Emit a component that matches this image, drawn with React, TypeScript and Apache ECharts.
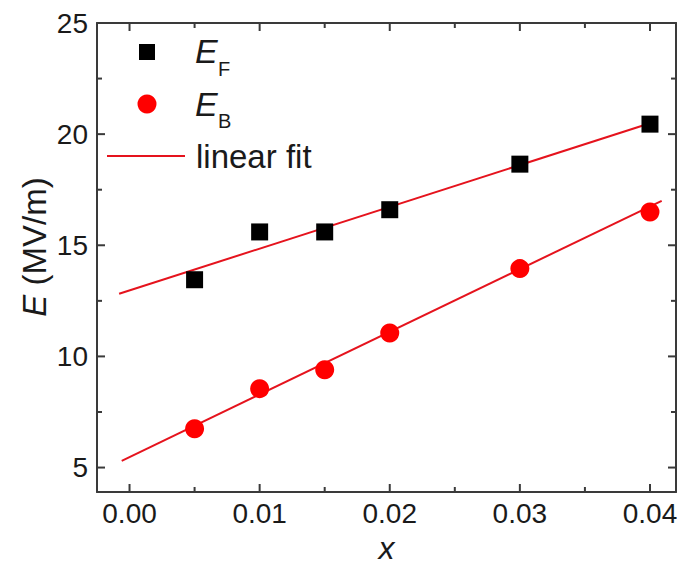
import React, { useEffect, useRef } from "react";
import * as echarts from "echarts";

// Data
const xValues = [0.005, 0.01, 0.015, 0.02, 0.03, 0.04];
const eF = [13.45, 15.6, 15.6, 16.6, 18.65, 20.45];
const eB = [6.75, 8.55, 9.4, 11.05, 13.95, 16.5];
// Linear-fit line endpoints as drawn in the reference
const fitFX = [-0.0008, 0.0406];
const fitFY = [12.82, 20.6];
const fitBX = [-0.0006, 0.0409];
const fitBY = [5.3, 17.0];

// Tick positions (inward ticks on all four sides)
const majorTicksX = [0, 0.01, 0.02, 0.03, 0.04];
const minorTicksX = [0.005, 0.015, 0.025, 0.035];
const majorTicksY = [5, 10, 15, 20];
const minorTicksY = [7.5, 12.5, 17.5, 22.5];

const X_MIN = -0.0025;
const X_MAX = 0.042;
const Y_MIN = 3.9;
const Y_MAX = 25;

const FONT = "Liberation Sans, Arial, sans-serif";
const TXT = "#1a1a1a";
const AX = "#3a3a3a";

function tickSeries(vals: number[], horizontalAxis: boolean, len: number) {
  return {
    type: "custom",
    silent: true,
    clip: false,
    z: 6,
    data: vals.map((v) => (horizontalAxis ? [v, Y_MIN] : [X_MIN, v])),
    renderItem: (_params: any, api: any) => {
      const style = { stroke: AX, lineWidth: 2 };
      if (horizontalAxis) {
        const v = api.value(0);
        const b = api.coord([v, Y_MIN]);
        const t = api.coord([v, Y_MAX]);
        return {
          type: "group",
          children: [
            { type: "line", shape: { x1: b[0], y1: b[1], x2: b[0], y2: b[1] - len }, style },
            { type: "line", shape: { x1: t[0], y1: t[1], x2: t[0], y2: t[1] + len }, style },
          ],
        };
      }
      const v = api.value(1);
      const l = api.coord([X_MIN, v]);
      const r = api.coord([X_MAX, v]);
      return {
        type: "group",
        children: [
          { type: "line", shape: { x1: l[0], y1: l[1], x2: l[0] + len, y2: l[1] }, style },
          { type: "line", shape: { x1: r[0], y1: r[1], x2: r[0] - len, y2: r[1] }, style },
        ],
      };
    },
  };
}

export default function App() {
  const ref = useRef<HTMLDivElement>(null);
  useEffect(() => {
    if (!ref.current) return;
    const chart = echarts.init(ref.current, null, { renderer: "svg" });
    const pairs = (xs: number[], ys: number[]) => xs.map((x, i) => [x, ys[i]]);
    const lineOnly = {
      axisLine: { show: true, onZero: false, lineStyle: { color: AX, width: 2 } },
      axisTick: { show: false },
      minorTick: { show: false },
      splitLine: { show: false },
      minorSplitLine: { show: false },
    };
    const option: any = {
      animation: false,
      backgroundColor: "#ffffff",
      grid: { left: 97, right: 7, top: 23, bottom: 74, containLabel: false, outerBoundsMode: "none" },
      xAxis: [
        {
          type: "value",
          position: "bottom",
          min: X_MIN,
          max: X_MAX,
          splitNumber: 5,
          ...lineOnly,
          axisLabel: {
            show: true,
            color: TXT,
            fontSize: 28,
            fontFamily: FONT,
            margin: 7,
            showMinLabel: false,
            showMaxLabel: false,
            formatter: (v: number) => v.toFixed(2),
          },
          name: "x",
          nameLocation: "middle",
          nameGap: 40,
          nameTextStyle: { color: TXT, fontSize: 32, fontStyle: "italic", fontFamily: FONT },
        },
        {
          type: "value",
          position: "top",
          min: X_MIN,
          max: X_MAX,
          ...lineOnly,
          axisLabel: { show: false },
        },
      ],
      yAxis: [
        {
          type: "value",
          position: "left",
          min: Y_MIN,
          max: Y_MAX,
          splitNumber: 5,
          ...lineOnly,
          axisLabel: {
            show: true,
            color: TXT,
            fontSize: 28,
            fontFamily: FONT,
            margin: 9,
            showMinLabel: false,
            showMaxLabel: true,
            formatter: (v: number) => (Number.isInteger(v) ? String(v) : ""),
          },
        },
        {
          type: "value",
          position: "right",
          min: Y_MIN,
          max: Y_MAX,
          ...lineOnly,
          axisLabel: { show: false },
        },
      ],
      series: [
        {
          name: "fitF",
          type: "line",
          data: pairs(fitFX, fitFY),
          symbol: "none",
          lineStyle: { color: "#e5131d", width: 2 },
          z: 3,
        },
        {
          name: "fitB",
          type: "line",
          data: pairs(fitBX, fitBY),
          symbol: "none",
          lineStyle: { color: "#e5131d", width: 2 },
          z: 3,
        },
        {
          name: "EF",
          type: "scatter",
          data: pairs(xValues, eF),
          symbol: "rect",
          symbolSize: 17,
          itemStyle: { color: "#000000", opacity: 1 },
          z: 4,
        },
        {
          name: "EB",
          type: "scatter",
          data: pairs(xValues, eB),
          symbol: "circle",
          symbolSize: 19,
          itemStyle: { color: "#ff0000", opacity: 1 },
          z: 4,
        },
        tickSeries(majorTicksX, true, 8),
        tickSeries(minorTicksX, true, 5),
        tickSeries(majorTicksY, false, 8),
        tickSeries(minorTicksY, false, 5),
      ],
      graphic: [
        {
          type: "text",
          x: 34,
          y: 247,
          rotation: Math.PI / 2,
          style: {
            text: "{i|E} (MV/m)",
            fontSize: 33,
            fontFamily: FONT,
            fill: TXT,
            align: "center",
            verticalAlign: "middle",
            rich: { i: { fontStyle: "italic", fontSize: 33, fontFamily: FONT, fill: TXT } },
          },
        },
        { type: "rect", shape: { x: 139, y: 44, width: 16, height: 16 }, style: { fill: "#000" } },
        { type: "circle", shape: { cx: 147, cy: 104, r: 9.5 }, style: { fill: "#ff0000" } },
        {
          type: "line",
          shape: { x1: 107, y1: 156, x2: 185, y2: 156 },
          style: { stroke: "#e5131d", lineWidth: 2 },
        },
        {
          type: "text",
          x: 195,
          y: 51,
          style: { text: "E", fontSize: 34, fontStyle: "italic", fontFamily: FONT, fill: TXT, verticalAlign: "middle" },
        },
        {
          type: "text",
          x: 218,
          y: 69,
          style: { text: "F", fontSize: 20, fontFamily: FONT, fill: TXT, verticalAlign: "middle" },
        },
        {
          type: "text",
          x: 195,
          y: 104,
          style: { text: "E", fontSize: 34, fontStyle: "italic", fontFamily: FONT, fill: TXT, verticalAlign: "middle" },
        },
        {
          type: "text",
          x: 218,
          y: 121,
          style: { text: "B", fontSize: 20, fontFamily: FONT, fill: TXT, verticalAlign: "middle" },
        },
        {
          type: "text",
          x: 196,
          y: 156,
          style: { text: "linear fit", fontSize: 33, fontFamily: FONT, fill: TXT, verticalAlign: "middle" },
        },
      ],
    };
    chart.setOption(option);
    return () => chart.dispose();
  }, []);
  return (
    <div
      ref={ref}
      style={{ position: "fixed", left: 0, top: 0, width: 683, height: 566, background: "#fff" }}
    />
  );
}
